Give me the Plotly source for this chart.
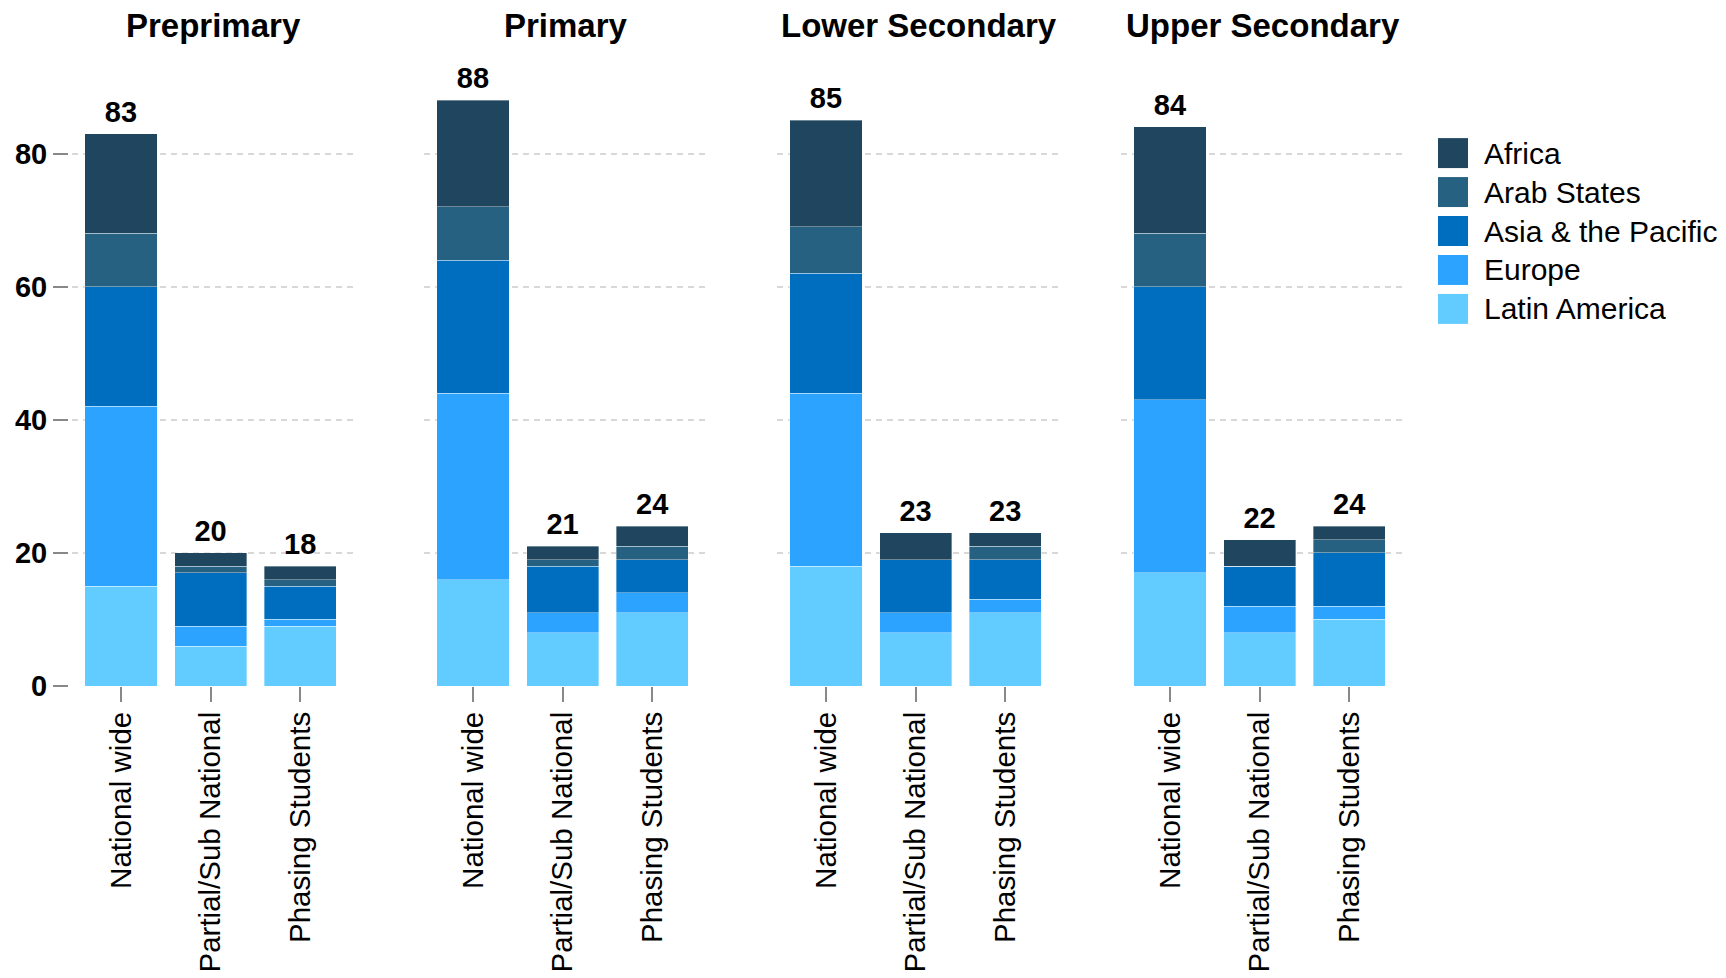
import plotly.graph_objects as go

# ---------------- data ----------------
levels = ["Preprimary", "Primary", "Lower Secondary", "Upper Secondary"]
categories = ["National wide", "Partial/Sub National", "Phasing Students"]
regions = ["Africa", "Arab States", "Asia & the Pacific", "Europe", "Latin America"]

# values per level (rows) x category (cols)
africa = [[15, 2, 2], [16, 2, 3], [16, 4, 2], [16, 4, 2]]
arab_states = [[8, 1, 1], [8, 1, 2], [7, 0, 2], [8, 0, 2]]
asia_pacific = [[18, 8, 5], [20, 7, 5], [18, 8, 6], [17, 6, 8]]
europe = [[27, 3, 1], [28, 3, 3], [26, 3, 2], [26, 4, 2]]
latin_america = [[15, 6, 9], [16, 8, 11], [18, 8, 11], [17, 8, 10]]

y_ticks = [0, 20, 40, 60, 80]

# ---------------- styling ----------------
series = {
    "Africa": africa,
    "Arab States": arab_states,
    "Asia & the Pacific": asia_pacific,
    "Europe": europe,
    "Latin America": latin_america,
}
colors = {
    "Africa": "#1f455f",
    "Arab States": "#266182",
    "Asia & the Pacific": "#006ebf",
    "Europe": "#2ca3ff",
    "Latin America": "#62cbff",
}
stack_order = ["Latin America", "Europe", "Asia & the Pacific", "Arab States", "Africa"]

FONT = "Liberation Sans, Arial, Helvetica, sans-serif"
W, H = 1726, 978
Y0 = 686.5          # pixel row of value 0
UNIT = 6.663        # pixels per unit
YMAX = 90
TOP = Y0 - YMAX * UNIT

def px_x(x):
    return x / W

def py(y):
    return (Y0 - y) / (Y0 - TOP)

first_centers = [121, 473, 826, 1170]
STEP = 89.6
LPAD, RPAD = 49, 55

fig = go.Figure()
layout_axes = {}
annotations = []
shapes = []

for i, level in enumerate(levels):
    xa = "x" if i == 0 else f"x{i+1}"
    ya = "y" if i == 0 else f"y{i+1}"
    for region in stack_order:
        fig.add_trace(go.Bar(
            x=categories, y=series[region][i], name=region,
            xaxis=xa, yaxis=ya, showlegend=False,
            marker=dict(color=colors[region], line=dict(width=0.6, color="rgba(255,255,255,0.6)")),
            hovertemplate=region + ": %{y}<extra></extra>",
        ))
    totals = [sum(series[r][i][k] for r in regions) for k in range(len(categories))]
    fig.add_trace(go.Scatter(
        x=categories, y=totals, mode="markers+text", text=[str(t) for t in totals],
        textposition="top center", xaxis=xa, yaxis=ya, showlegend=False,
        marker=dict(size=6, color="rgba(0,0,0,0)"),
        textfont=dict(family=FONT, size=29, color="#000", weight="bold"),
        cliponaxis=False, hoverinfo="skip",
    ))

    c = first_centers[i]
    d0, d1 = (c - LPAD) / W, (c + 2 * STEP + RPAD) / W
    xkey = "xaxis" if i == 0 else f"xaxis{i+1}"
    ykey = "yaxis" if i == 0 else f"yaxis{i+1}"
    layout_axes[xkey] = dict(
        domain=[d0, d1], anchor=ya, type="category",
        range=[-LPAD / STEP, 2 + RPAD / STEP],
        tickangle=-90, ticks="outside", ticklen=15, tickwidth=2, tickcolor="#888",
        tickfont=dict(family=FONT, size=29.5, color="#000"),
        showgrid=False, zeroline=False, showline=False, automargin=False,
        ticklabelstandoff=-2,
    )
    ycfg = dict(
        range=[0, YMAX], tickvals=y_ticks, showgrid=True, gridcolor="#d8d8d8",
        gridwidth=2, griddash="6px,5px", zeroline=False, showline=False,
        automargin=False,
    )
    if i == 0:
        ycfg.update(anchor="free", position=68 / W, ticks="outside", ticklen=15,
                    tickwidth=2, tickcolor="#888",
                    tickfont=dict(family=FONT, size=29, color="#000", weight="bold"))
    else:
        ycfg.update(anchor=xa, matches="y", showticklabels=False, ticks="")
    layout_axes[ykey] = ycfg

    annotations.append(dict(
        text=level, x=(d0 + d1) / 2, y=py(25), xref="paper", yref="paper",
        xanchor="center", yanchor="middle", showarrow=False,
        font=dict(family=FONT, size=33, color="#000", weight="bold"),
    ))

# manual legend
for j, region in enumerate(regions):
    ytop = 138 + 39 * j
    shapes.append(dict(
        type="rect", xref="paper", yref="paper",
        x0=px_x(1438), x1=px_x(1468), y0=py(ytop + 30), y1=py(ytop),
        fillcolor=colors[region], line=dict(width=0),
    ))
    annotations.append(dict(
        text=region, x=px_x(1482), y=py(ytop + 15), xref="paper", yref="paper",
        xanchor="left", yanchor="middle", showarrow=False,
        font=dict(family=FONT, size=30, color="#000"),
    ))

fig.update_layout(
    width=W, height=H, autosize=False,
    margin=dict(l=0, r=0, t=TOP, b=H - Y0, pad=0),
    barmode="stack", bargap=0.196,
    plot_bgcolor="white", paper_bgcolor="white",
    showlegend=False, annotations=annotations, shapes=shapes,
    font=dict(family=FONT, color="#000"),
    **layout_axes,
)

fig.write_html(
    "out.html",
    config={"displayModeBar": False},
    post_script="document.body.style.margin='0';document.body.style.padding='0';document.body.style.overflow='hidden';",
)
